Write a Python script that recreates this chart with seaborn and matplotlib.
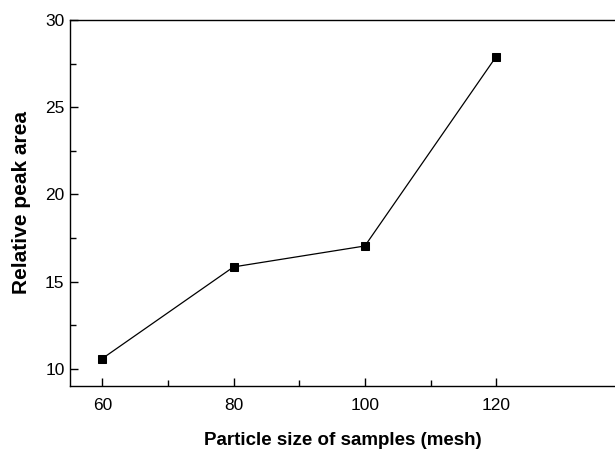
import matplotlib
matplotlib.use('Agg')
import matplotlib.pyplot as plt
import seaborn as sns
import pandas as pd
from matplotlib.ticker import MultipleLocator, FixedLocator

# Data
mesh = [60, 80, 100, 120]
peak_area = [10.6, 15.85, 17.05, 27.9]

df = pd.DataFrame({'mesh': mesh, 'area': peak_area})

sns.set_theme(style='ticks', rc={'axes.labelcolor': 'black', 'text.color': 'black'})
plt.rcParams['font.family'] = ['Liberation Sans', 'DejaVu Sans']

fig = plt.figure(figsize=(6.15, 4.53), dpi=100)
ax = fig.add_axes([0.114, 0.148, 0.886, 0.808])

sns.lineplot(data=df, x='mesh', y='area', ax=ax, color='black', linewidth=0.9,
             marker='s', markersize=6, markeredgecolor='black', markerfacecolor='black')

ax.set_xlim(55.1, 138.1)
ax.set_ylim(9.03, 30)
ax.xaxis.set_major_locator(FixedLocator([60, 80, 100, 120]))
ax.xaxis.set_minor_locator(FixedLocator([70, 90, 110]))
ax.yaxis.set_major_locator(MultipleLocator(5))
ax.yaxis.set_minor_locator(MultipleLocator(2.5))

ax.tick_params(which='major', direction='in', length=6, width=1, labelsize=12.5, colors='black')
ax.tick_params(which='minor', direction='in', length=4, width=1, colors='black')
ax.tick_params(axis='x', pad=9)
ax.tick_params(axis='y', pad=4)

ax.spines['right'].set_visible(False)
for s in ['left', 'bottom', 'top']:
    ax.spines[s].set_color('black')
    ax.spines[s].set_linewidth(1)

ax.set_xlabel('Particle size of samples (mesh)', fontsize=13.5, fontweight='bold', labelpad=13)
ax.set_ylabel('Relative peak area', fontsize=15, fontweight='bold', labelpad=10)

fig.savefig('out.png', dpi=100)
